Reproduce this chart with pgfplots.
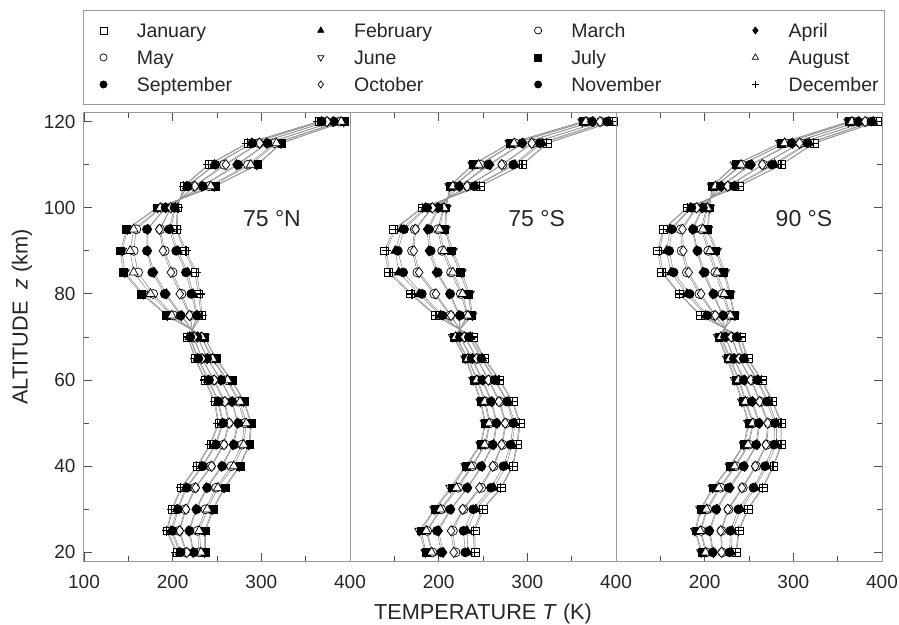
\documentclass[border=0pt]{standalone}
\usepackage{pgfplots}
\pgfplotsset{compat=1.18}
\usepackage{pgfplotstable}
\usepackage{fontspec}
\setmainfont{Liberation Sans}

% 75 N
\pgfplotstableread{
z Jan Feb Mar Apr May Jun Jul Aug Sep Oct Nov Dec
20 205 208 215 223 230 236 237 232 224 216 209 204
25 194 198 207 218 228 236 237 230 219 208 200 193
30 200 205 214 226 237 245 246 239 227 215 206 199
35 210 215 225 238 249 258 259 251 239 226 216 209
40 228 233 243 255 266 275 276 269 256 244 234 227
45 243 248 257 268 278 286 287 280 269 258 249 242
50 252 256 263 273 281 288 289 283 274 264 257 251
55 248 251 258 267 274 280 281 276 267 259 252 247
60 237 240 246 254 261 266 267 262 255 247 241 236
65 226 228 233 239 244 248 249 245 239 233 229 225
70 217 219 223 228 232 236 236 233 228 224 220 217
75 232 228 220 210 201 194 193 199 209 219 227 233
80 229 223 210 193 178 167 165 175 191 208 221 231
85 225 217 200 179 161 146 144 156 177 198 215 227
90 213 206 191 172 156 143 141 152 171 189 204 215
95 204 198 186 172 159 149 148 156 171 185 196 205
100 205 203 198 192 187 183 182 186 192 198 202 206
105 213 216 224 233 241 247 248 243 234 225 217 212
110 241 247 258 272 285 295 296 288 274 260 248 240
115 285 289 297 306 315 322 323 317 307 298 290 284
120 365 368 374 381 388 393 394 390 382 374 368 364
}\dataNa

% 75 S
\pgfplotstableread{
z Jan Feb Mar Apr May Jun Jul Aug Sep Oct Nov Dec
20 241 233 219 205 193 185 186 192 203 217 230 240
25 241 232 216 200 187 178 180 186 198 214 228 239
30 250 242 228 214 203 195 196 202 213 227 239 249
35 271 262 248 233 222 213 215 220 232 246 259 270
40 284 276 262 249 238 230 231 237 248 261 273 283
45 289 283 272 262 253 247 248 252 261 271 281 288
50 292 286 276 266 258 252 253 257 265 275 284 291
55 284 278 269 260 253 247 248 252 259 268 277 283
60 269 264 257 250 244 239 240 243 249 256 263 268
65 252 249 243 238 233 230 231 233 237 243 248 251
70 239 236 230 224 220 216 217 219 224 229 234 238
75 196 202 213 223 232 238 237 233 224 214 204 197
80 168 178 195 212 225 235 233 227 213 197 181 170
85 143 155 176 197 214 226 224 216 199 178 160 145
90 139 151 170 189 204 216 214 206 191 172 154 141
95 149 158 173 187 199 208 207 201 189 174 161 151
100 181 185 192 199 205 209 208 206 200 193 187 182
105 247 242 233 224 217 212 213 216 223 232 240 246
110 295 286 272 258 247 238 239 245 256 271 284 294
115 323 317 306 295 286 280 281 285 294 305 314 322
120 397 392 383 374 367 362 363 366 373 382 390 396
}\dataSa

% 90 S
\pgfplotstableread{
z Jan Feb Mar Apr May Jun Jul Aug Sep Oct Nov Dec
20 236 230 220 210 202 196 197 201 209 219 228 235
25 239 231 219 206 196 189 190 195 205 218 229 238
30 249 241 227 214 203 195 196 202 213 226 238 248
35 266 257 243 229 218 209 210 216 227 242 255 265
40 278 270 258 245 235 228 229 234 244 257 268 277
45 287 281 270 259 250 244 245 249 258 269 278 286
50 287 281 272 262 255 249 250 254 261 271 279 286
55 277 272 263 254 247 242 243 246 253 262 270 276
60 265 260 253 245 239 234 235 238 244 252 259 264
65 249 245 239 233 229 225 226 228 233 239 244 248
70 241 237 231 224 219 215 216 218 223 230 236 240
75 195 201 211 220 228 234 233 229 221 212 203 196
80 171 180 194 209 220 229 228 222 210 196 183 172
85 151 162 180 198 212 223 221 214 200 182 165 153
90 147 157 174 191 204 214 212 206 192 176 160 149
95 153 161 173 186 196 204 203 198 187 175 163 154
100 180 184 190 197 202 206 205 203 198 191 185 181
105 239 234 227 219 213 208 209 212 218 226 233 238
110 287 279 266 253 242 234 235 241 251 265 276 286
115 324 318 308 299 291 285 286 290 298 307 316 323
120 395 390 382 374 367 362 363 366 373 381 388 394
}\dataSb

\pgfplotsset{
  ln/.style={draw=gray!85, line width=0.6pt, mark size=4.5pt},
  mJan/.style={ln, mark=square*, mark size=3.9pt, mark options={draw=black, fill=white, line width=0.7pt, solid}},
  mFeb/.style={ln, mark=triangle*, mark size=5.2pt, mark options={draw=black, fill=black, solid}},
  mMar/.style={ln, mark=*, mark options={draw=black, fill=white, line width=0.7pt, solid}},
  mApr/.style={ln, mark=diamond*, mark size=5.2pt, mark options={draw=black, fill=black, solid}},
  mMay/.style={ln, mark=*, mark options={draw=black, fill=white, line width=0.7pt, solid}},
  mJun/.style={ln, mark=triangle*, mark size=5.2pt, mark options={draw=black, fill=white, rotate=180, line width=0.7pt, solid}},
  mJul/.style={ln, mark=square*, mark size=3.9pt, mark options={draw=black, fill=black, solid}},
  mAug/.style={ln, mark=triangle*, mark size=5.2pt, mark options={draw=black, fill=white, line width=0.7pt, solid}},
  mSep/.style={ln, mark=*, mark options={draw=black, fill=black, solid}},
  mOct/.style={ln, mark=diamond*, mark size=5.2pt, mark options={draw=black, fill=white, line width=0.7pt, solid}},
  mNov/.style={ln, mark=*, mark options={draw=black, fill=black, solid}},
  mDec/.style={ln, mark=+, mark size=4.8pt, mark options={draw=black, line width=1.2pt, solid}},
  panel/.style={
    scale only axis, width=266pt, height=448pt,
    xmin=100, xmax=400, ymin=18, ymax=122,
    xtick={100,200,300,400}, minor xtick={150,250,350},
    ytick={20,40,...,120}, minor ytick={30,50,...,110},
    tick align=inside,
    major tick length=8.5pt, minor tick length=5.5pt,
    axis line style={gray!80, line width=1pt},
    every tick/.style={gray!60!black, line width=0.9pt},
    tick label style={font=\fontsize{19}{22}\selectfont, text=black!85},
    /pgf/number format/assume math mode=true,
    xticklabel style={yshift=-11pt},
    yticklabel style={xshift=-5pt},
    label style={font=\fontsize{21.7}{24}\selectfont, text=black!85},
    clip=false,
  },
}

\newcommand\monthplots[1]{%
  \addplot[mJan] table[x=Jan,y=z]{#1};
  \addplot[mFeb] table[x=Feb,y=z]{#1};
  \addplot[mMar] table[x=Mar,y=z]{#1};
  \addplot[mApr] table[x=Apr,y=z]{#1};
  \addplot[mMay] table[x=May,y=z]{#1};
  \addplot[mJun] table[x=Jun,y=z]{#1};
  \addplot[mJul] table[x=Jul,y=z]{#1};
  \addplot[mAug] table[x=Aug,y=z]{#1};
  \addplot[mSep] table[x=Sep,y=z]{#1};
  \addplot[mOct] table[x=Oct,y=z]{#1};
  \addplot[mNov] table[x=Nov,y=z]{#1};
  \addplot[mDec] table[x=Dec,y=z]{#1};
}
\newcommand\LE[1]{\makebox[163.7pt][l]{#1}}
\newcommand\LF[1]{\makebox[95.7pt][l]{#1}}

\begin{document}
\begin{tikzpicture}
\useasboundingbox (-84pt,-63pt) rectangle (815pt,561pt);

\begin{axis}[panel,
  ytick pos=left,
  ylabel={ALTITUDE\hspace{0.55em}\textit{z} (km)},
  ylabel style={at={(axis description cs:-0.233,0.545)}, anchor=center},
  legend columns=4,
  legend cell align=left,
  legend style={at={(axis description cs:-0.0049,1.0179)}, anchor=south west,
    draw=gray!80, line width=1pt, fill=white,
    inner xsep=0pt, inner ysep=10.5pt, column sep=0pt, row sep=8pt,
    font=\fontsize{19.5}{22}\selectfont, text=black!85,
    nodes={inner sep=0pt, text height=17pt, text depth=2pt}},
  legend image code/.code={\path (0pt,0pt) (53pt,0pt);
    \draw[#1, only marks, mark size=3.6pt] plot coordinates {(20pt,0pt)};},
  legend entries={\LE{January},\LE{February},\LE{March},\LF{April},
                  \LE{May},\LE{June},\LE{July},\LF{August},
                  \LE{September},\LE{October},\LE{November},\LF{December}},
]
\monthplots{\dataNa}
\node[font=\fontsize{23}{26}\selectfont, text=black!85] at (axis cs:312,97.4) {75 °N};
\end{axis}

\begin{axis}[panel, at={(266pt,0pt)},
  ytick=\empty, minor ytick=\empty,
  xticklabels={,200,300,400},
  xlabel={TEMPERATURE \textit{T} (K)},
  xlabel style={at={(axis description cs:0.5,-0.1176)}, anchor=center},
]
\monthplots{\dataSa}
\node[font=\fontsize{23}{26}\selectfont, text=black!85] at (axis cs:310.5,97.6) {75 °S};
\end{axis}

\begin{axis}[panel, at={(532pt,0pt)},
  ytick pos=right, yticklabels={},
  xticklabels={,200,300,400},
]
\monthplots{\dataSb}
\node[font=\fontsize{23}{26}\selectfont, text=black!85] at (axis cs:312,97.6) {90 °S};
\end{axis}
\end{tikzpicture}
\end{document}
